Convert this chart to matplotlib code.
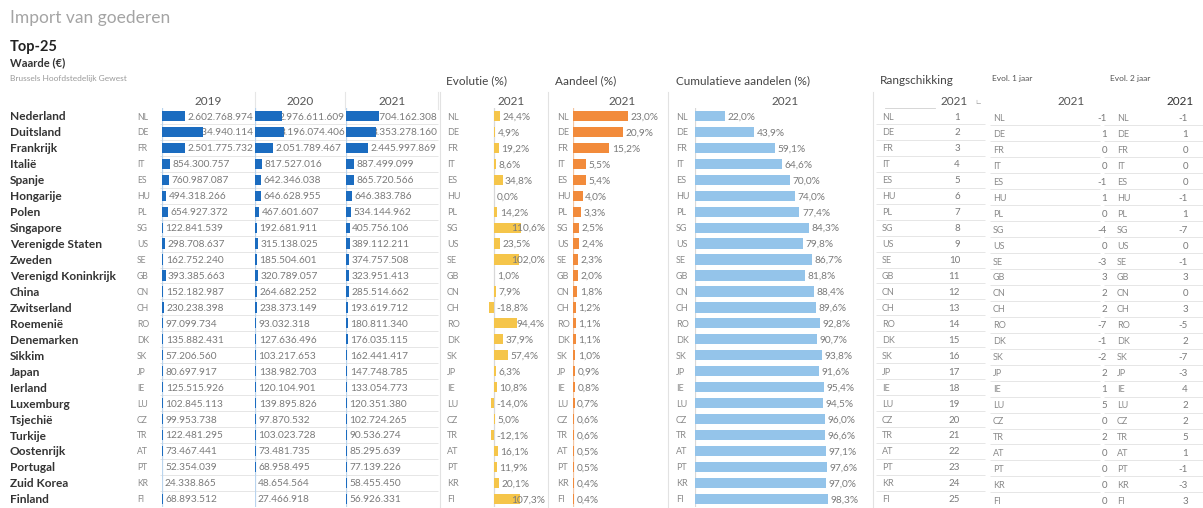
import numpy as np
import matplotlib
matplotlib.use('Agg')
import matplotlib.pyplot as plt
from matplotlib.transforms import offset_copy

# ---------------- data ----------------
countries = ["Nederland", "Duitsland", "Frankrijk", "Italië", "Spanje", "Hongarije", "Polen",
             "Singapore", "Verenigde Staten", "Zweden", "Verenigd Koninkrijk", "China",
             "Zwitserland", "Roemenië", "Denemarken", "Sikkim", "Japan", "Ierland", "Luxemburg",
             "Tsjechië", "Turkije", "Oostenrijk", "Portugal", "Zuid Korea", "Finland"]
codes = ["NL", "DE", "FR", "IT", "ES", "HU", "PL", "SG", "US", "SE", "GB", "CN", "CH", "RO",
         "DK", "SK", "JP", "IE", "LU", "CZ", "TR", "AT", "PT", "KR", "FI"]
years = ["2019", "2020", "2021"]
val_2019 = [2602768974, 4534940114, 2501775732, 854300757, 760987087, 494318266, 654927372,
            122841539, 298708637, 162752240, 393385663, 152182987, 230238398, 97099734,
            135882431, 57206560, 80697917, 125515926, 102845113, 99953738, 122481295,
            73467441, 52354039, 24338865, 68893512]
val_2020 = [2976611609, 3196074406, 2051789467, 817527016, 642346038, 646628955, 467601607,
            192681911, 315138025, 185504601, 320789057, 264682252, 238373149, 93032318,
            127636496, 103217653, 138982703, 120104901, 139895826, 97870532, 103023728,
            73481735, 68958495, 48654564, 27466918]
val_2021 = [3704162308, 3353278160, 2445997869, 887499099, 865720566, 646383786, 534144962,
            405756106, 389112211, 374757508, 323951413, 285514662, 193619712, 180811340,
            176035115, 162441417, 147748785, 133054773, 120351380, 102724265, 90536274,
            85295639, 77139226, 58455450, 56926331]
evolutie = [24.4, 4.9, 19.2, 8.6, 34.8, 0.0, 14.2, 110.6, 23.5, 102.0, 1.0, 7.9, -18.8, 94.4,
            37.9, 57.4, 6.3, 10.8, -14.0, 5.0, -12.1, 16.1, 11.9, 20.1, 107.3]
aandeel = [23.0, 20.9, 15.2, 5.5, 5.4, 4.0, 3.3, 2.5, 2.4, 2.3, 2.0, 1.8, 1.2, 1.1, 1.1, 1.0,
           0.9, 0.8, 0.7, 0.6, 0.6, 0.5, 0.5, 0.4, 0.4]
cumulatief = [22.0, 43.9, 59.1, 64.6, 70.0, 74.0, 77.4, 84.3, 79.8, 86.7, 81.8, 88.4, 89.6, 92.8,
              90.7, 93.8, 91.6, 95.4, 94.5, 96.0, 96.6, 97.1, 97.6, 97.0, 98.3]
rang = [1, 2, 3, 4, 5, 6, 7, 8, 9, 10, 11, 12, 13, 14, 15, 16, 17, 18, 19, 20, 21, 22, 23, 24, 25]
evol_1jaar = [-1, 1, 0, 0, -1, 1, 0, -4, 0, -3, 3, 2, 2, -7, -1, -2, 2, 1, 5, 0, 2, 0, 0, 0, 0]
evol_2jaar = [-1, 1, 0, 0, 0, -1, 1, -7, 0, -1, 3, 0, 3, -5, 2, -7, -3, 4, 2, 2, 5, 1, -1, -3, 3]

# ---------------- style ----------------
plt.rcParams['font.family'] = ['Lato', 'DejaVu Sans']
BLUE = '#1b6cc0'
YELLOW = '#f5c54a'
ORANGE = '#f28b3b'
LBLUE = '#94c4ea'
TXT = '#7a7a7a'
DARK = '#333333'
CODE = '#8a8a8a'
LINE = '#e6e6e6'

W, H = 1203, 508
fig = plt.figure(figsize=(W / 100, H / 100), dpi=100)
fig.patch.set_facecolor('white')
R = fig.canvas.get_renderer()

n = len(countries)
ROW0, ROWH = 116.0, 15.95
TOP = ROW0 - ROWH / 2
BOT = ROW0 + (n - 0.5) * ROWH


def px_axes(x0, x1, dy=0.0, z=1):
    ax = fig.add_axes([x0 / W, 1 - (BOT + dy) / H, (x1 - x0) / W, (BOT - TOP) / H], zorder=z)
    ax.set_axis_off()
    ax.set_ylim(n - 0.5, -0.5)
    ax.patch.set_alpha(0)
    return ax


# header / free text axes
hdr = fig.add_axes([0, 0, 1, 1], zorder=0)
hdr.set_axis_off()
hdr.set_xlim(0, W)
hdr.set_ylim(H, 0)

hdr.text(10, 18, "Import van goederen", fontsize=12.5, color='#a4a4a4', va='center', ha='left')
hdr.text(10, 47, "Top-25", fontsize=10.5, color='#222222', va='center', fontweight='bold')
hdr.text(10, 63, "Waarde (€)", fontsize=8, color='#333333', va='center', fontweight='bold')
hdr.text(10, 79, "Brussels Hoofdstedelijk Gewest", fontsize=6, color='#9a9a9a', va='center')

for x, t in [(446, "Evolutie (%)"), (555, "Aandeel (%)"), (676, "Cumulatieve aandelen (%)"),
             (880, "Rangschikking")]:
    hdr.text(x, 81, t, fontsize=8.5, color='#444444', va='center')
hdr.text(992, 78, "Evol. 1 jaar", fontsize=6, color='#555555', va='center')
hdr.text(1110, 78, "Evol. 2 jaar", fontsize=6, color='#555555', va='center')

YH = 101.5
for x, t in [(208, years[0]), (300, years[1]), (392, years[2]), (511, years[2]),
             (622, years[2]), (785, years[2]), (1071, years[2])]:
    hdr.text(x, YH, t, fontsize=8.5, color='#555555', va='center', ha='center')
hdr.text(968, YH, years[2], fontsize=8.5, color='#555555', va='center', ha='right')
hdr.text(1194, YH, years[2], fontsize=8.5, color='#333333', va='center', ha='right')
hdr.text(978, YH, "∟", fontsize=6, color='#999999', va='center', ha='center')

# header separators
for x in [255, 345, 438]:
    hdr.plot([x, x], [92, 109], color=LINE, lw=0.8)
hdr.plot([885, 935], [108, 108], color='#d0d0d0', lw=0.6)
for x in [548, 668, 873]:
    hdr.plot([x, x], [92, H], color='#e2e2e2', lw=0.8)
hdr.plot([440, 440], [92, H], color='#e2e2e2', lw=0.8)

# grid axes in pixel x for names, codes and table numbers
g = px_axes(0, W, z=1)
g.set_xlim(0, W)
rows = np.arange(n)
g.hlines(rows + 0.5, 160, 438, color=LINE, lw=0.7)
g.hlines(rows + 0.5, 876, 985, color=LINE, lw=0.7)

g2 = px_axes(0, W, dy=1.5, z=1)
g2.set_xlim(0, W)
g2.hlines(rows + 0.5, 990, 1100, color=LINE, lw=0.7)
g2.hlines(rows + 0.5, 1104, W, color=LINE, lw=0.7)

for i in rows:
    g.text(10, i, countries[i], fontsize=8.6, color=DARK, fontweight='bold', va='center_baseline')
    g.text(137, i, codes[i], fontsize=6.2, color=CODE, va='center_baseline')
    g.text(447, i, codes[i], fontsize=6.5, color=CODE, va='center_baseline')
    g.text(557, i, codes[i], fontsize=6.5, color=CODE, va='center_baseline')
    g.text(676, i, codes[i], fontsize=6.5, color=CODE, va='center_baseline')
    g.text(882, i, codes[i], fontsize=6.5, color=CODE, va='center_baseline')
    g.text(960, i, str(rang[i]), fontsize=7, color=TXT, va='center_baseline', ha='right')
    g2.text(993, i, codes[i], fontsize=6.5, color=CODE, va='center_baseline')
    g2.text(1107, i, str(evol_1jaar[i]), fontsize=7, color=TXT, va='center_baseline', ha='right')
    g2.text(1117, i, codes[i], fontsize=6.5, color=CODE, va='center_baseline')
    g2.text(1188, i, str(evol_2jaar[i]), fontsize=7, color=TXT, va='center_baseline', ha='right')


def fmt_int(v):
    return f"{v:,}".replace(',', '.')


def fmt_pct(v):
    return f"{v:.1f}%".replace('.', ',')


def bar_panel(vals, labels, x0, x1, zero_px, ppu, color, zl_color, text_color=TXT, fs=7.3,
              height=0.64, text_z=1, bar_z=3):
    ax = px_axes(x0, x1, z=2)
    ax.set_xlim((x0 - zero_px) / ppu, (x1 - zero_px) / ppu)
    ax.barh(rows, vals, height=height, color=color, zorder=bar_z)
    ax.axvline(0, color=zl_color, lw=0.9, zorder=0)
    right = ax.get_xlim()[1]
    for i, (v, lab) in enumerate(zip(vals, labels)):
        anchor = max(v, 0)
        tr = offset_copy(ax.transData, fig=fig, x=2.5, y=0, units='dots')
        t = ax.text(anchor, i, lab, transform=tr, fontsize=fs, color=text_color,
                    va='center_baseline', ha='left', zorder=text_z, clip_on=False)
        w = t.get_window_extent(R).width
        end_px = zero_px + anchor * ppu
        if end_px + 2.5 + w > x1:
            t.set_x(right)
            t.set_ha('right')
            t.set_transform(offset_copy(ax.transData, fig=fig, x=-1, y=0, units='dots'))
    return ax


SCALE = 9.0e-9  # px per euro
bar_panel(val_2019, [fmt_int(v) for v in val_2019], 162, 255, 162, SCALE, BLUE, '#b9d4ee')
bar_panel(val_2020, [fmt_int(v) for v in val_2020], 255, 346, 255, SCALE, BLUE, '#b9d4ee')
bar_panel(val_2021, [fmt_int(v) for v in val_2021], 346, 438, 346, SCALE, BLUE, '#b9d4ee')

bar_panel(evolutie, [fmt_pct(v) for v in evolutie], 470, 546, 494, 0.245, YELLOW, '#d8d8d8',
          text_z=5)
bar_panel(aandeel, [fmt_pct(v) for v in aandeel], 573, 666, 573, 2.39, ORANGE, '#f3c6a3')
bar_panel(cumulatief, [fmt_pct(v) for v in cumulatief], 695, 870, 695, 1.35, LBLUE, '#d8d8d8')

fig.savefig("out.png", dpi=100, facecolor='white')
